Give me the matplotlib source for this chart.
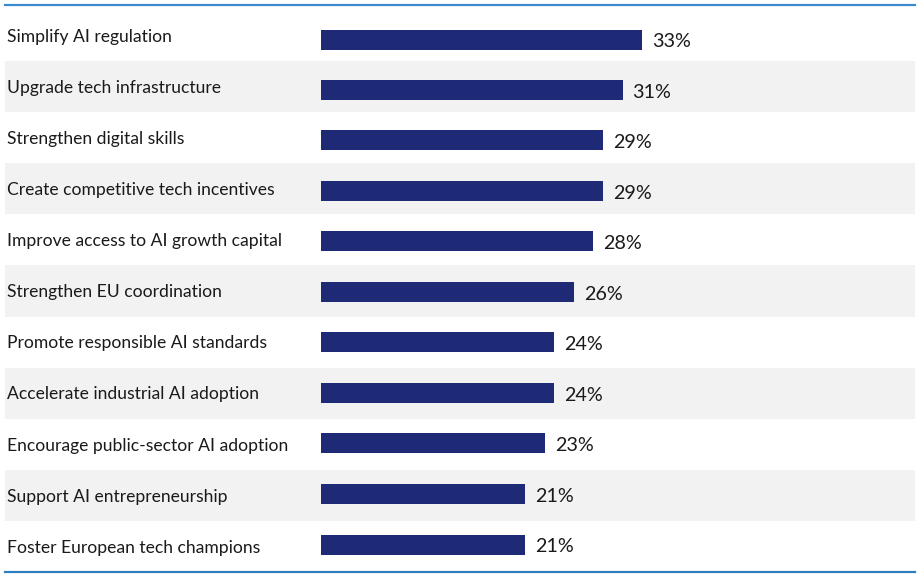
import matplotlib
matplotlib.use('Agg')
import matplotlib.pyplot as plt
from matplotlib.lines import Line2D
from matplotlib.transforms import blended_transform_factory, offset_copy


# Chart data
categories = [
    'Simplify AI regulation',
    'Upgrade tech infrastructure',
    'Strengthen digital skills',
    'Create competitive tech incentives',
    'Improve access to AI growth capital',
    'Strengthen EU coordination',
    'Promote responsible AI standards',
    'Accelerate industrial AI adoption',
    'Encourage public-sector AI adoption',
    'Support AI entrepreneurship',
    'Foster European tech champions',
]
values = [33, 31, 29, 29, 28, 26, 24, 24, 23, 21, 21]


# Styles
bar_color = '#1f2a76'
band_color = '#f2f2f2'
rule_color = '#3a8cce'
text_color = '#1a1a1a'
plt.rcParams['font.family'] = ['Lato', 'DejaVu Sans']

W, H = 920, 574
fig = plt.figure(figsize=(W / 100, H / 100), dpi=100)

# axes spans the whole table area, bars start at x = 321 px
ax_left, ax_right, ax_top, ax_bottom = 5, 915, 10, 572
ax = fig.add_axes([ax_left / W, 1 - ax_bottom / H,
                   (ax_right - ax_left) / W, (ax_bottom - ax_top) / H])

n = len(categories)
row_px = (ax_bottom - ax_top) / n
px_per_unit = (642 - 321) / 33
ax.set_xlim(-(321 - ax_left) / px_per_unit, (ax_right - 321) / px_per_unit)
ax.set_ylim(n - 0.5, -0.5)

# alternating grey bands
for i in range(n):
    if i % 2 == 1:
        ax.axhspan(i - 0.5, i + 0.5, color=band_color, lw=0, zorder=0)

# bars sit on a slightly tighter pitch than the bands
bar_pitch = 50.5 / row_px
ypos = [(39.5 - ax_top) / row_px - 0.5 + i * bar_pitch for i in range(n)]
ax.barh(ypos, values, height=20 / row_px, color=bar_color, zorder=2)

lab_tr = blended_transform_factory(ax.transAxes, ax.transData)
lab_tr = offset_copy(lab_tr, fig=fig, x=2, y=-6.3, units='dots')
val_tr = offset_copy(ax.transData, fig=fig, x=10, y=-7.6, units='dots')
for i, (cat, v) in enumerate(zip(categories, values)):
    ax.text(0, i, cat, transform=lab_tr, ha='left', va='baseline',
            fontsize=12.65, color=text_color)
    ax.text(v, ypos[i], f'{v}%', transform=val_tr, ha='left',
            va='baseline', fontsize=14.2, color=text_color)

ax.axis('off')

# top and bottom rules
fig.add_artist(Line2D([ax_left / W, ax_right / W], [1 - 5 / H, 1 - 5 / H],
                      color=rule_color, lw=1.6))
fig.add_artist(Line2D([ax_left / W, ax_right / W], [1 - 572 / H, 1 - 572 / H],
                      color='#2e7fc0', lw=1.6))

fig.savefig('out.png', dpi=100)
